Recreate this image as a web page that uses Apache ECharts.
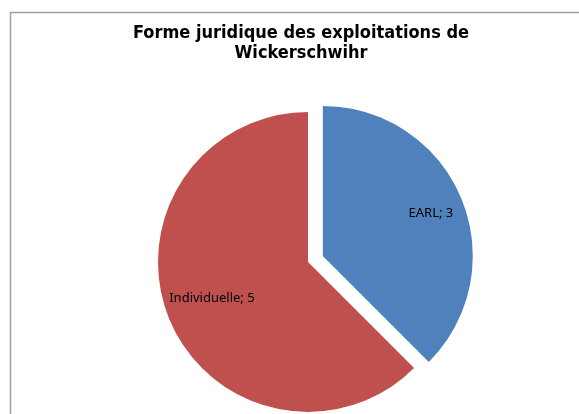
<!DOCTYPE html>
<html><head><meta charset="utf-8">
<script src="https://cdn.jsdelivr.net/npm/echarts@6/dist/echarts.min.js"></script>
<style>html,body{margin:0;padding:0;background:#fff}#c{width:579px;height:414px}</style>
</head><body><div id="c"></div>
<script>
var categories = ['EARL', 'Individuelle'];
var values = [3, 5];
var colors = ['#4F81BD', '#C0504D'];
var labelRadii = [114, 101];
var labelNudgeY = [2, -4];

var total = values.reduce(function(a,b){return a+b;},0);
var cum = 0, midAngles = [];
values.forEach(function(v){ midAngles.push((cum + v/2)/total*2*Math.PI); cum += v; });

var chart = echarts.init(document.getElementById('c'), null, {renderer:'canvas'});
chart.setOption({
  animation:false,
  backgroundColor:'#fff',
  graphic:[{type:'rect', shape:{x:10.5,y:12.5,width:700,height:600}, style:{fill:'none', stroke:'#a0a0a0', lineWidth:1.5}, silent:true}],
  title:{
    text:'Forme juridique des exploitations de\nWickerschwihr',
    left:296, top:18, textAlign:'center',
    textStyle:{fontFamily:'"DejaVu Sans Condensed", "DejaVu Sans"', fontWeight:'bold', fontSize:18, lineHeight:20, color:'#000'}
  },
  series:[{
    type:'pie',
    center:[308,262],
    radius:[0,150],
    startAngle:90,
    clockwise:true,
    selectedMode:'single',
    selectedOffset:16,
    avoidLabelOverlap:false,
    label:{position:'inside', formatter:'{b}; {c}', fontFamily:'Noto Sans', fontSize:13, color:'#000'},
    labelLine:{show:false},
    emphasis:{disabled:true},
    labelLayout:function(p){
      var i = p.dataIndex, a = midAngles[i], d = labelRadii[i] - 75;
      return {dx: Math.sin(a)*d, dy: -Math.cos(a)*d + labelNudgeY[i]};
    },
    data: categories.map(function(c,i){
      return {name:c, value:values[i], selected:i===0, itemStyle:{color:colors[i]}};
    })
  }]
});
</script></body></html>
